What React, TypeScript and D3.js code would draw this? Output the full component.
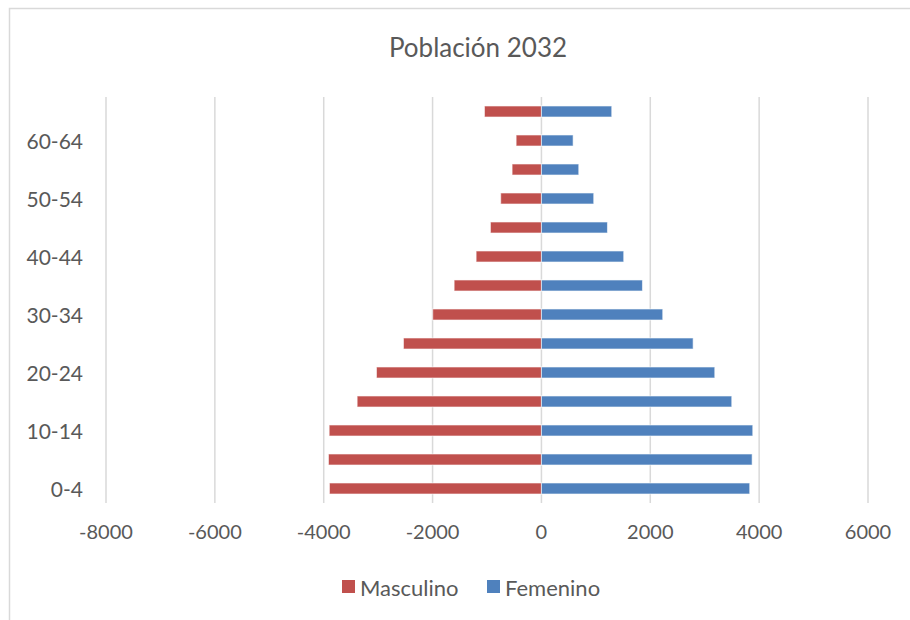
import React from "react";
import * as d3 from "d3";

const categories = ["0-4","5-9","10-14","15-19","20-24","25-29","30-34","35-39","40-44","45-49","50-54","55-59","60-64","65+"];
const masculino = [-3895,-3913,-3900,-3386,-3031,-2535,-1997,-1604,-1200,-937,-748,-539,-465,-1047];
const femenino = [3827,3871,3883,3497,3185,2787,2229,1856,1512,1213,961,686,582,1292];
const xTicks = [-8000,-6000,-4000,-2000,0,2000,4000,6000];
const seriesNames = ["Masculino","Femenino"];
const colors = ["#C0504D","#4F81BD"];
const title = "Población 2032";

export default function App() {
  const W = 910, H = 620;
  const x = d3.scaleLinear().domain([-8000, 6000]).range([106, 868]);
  const y = d3.scaleBand<string>().domain(categories).range([503, 97]).paddingInner(0.62).paddingOuter(0.31);
  const font = "Lato, 'Open Sans', sans-serif";
  const txt = "#595959";
  const series = [masculino, femenino];
  return (
    <svg width={W} height={H} style={{ position: "absolute", left: 0, top: 0, background: "#fff" }}>
      <rect x={9.5} y={8.5} width={W + 20} height={H + 20} fill="#fff" stroke="#D9D9D9" strokeWidth={1.5} />
      <text x={478} y={47} textAnchor="middle" dominantBaseline="central" fontFamily={font} fontSize={26} fill={txt}>{title}</text>
      {xTicks.map((t) => (
        <line key={"g" + t} x1={x(t)} x2={x(t)} y1={97} y2={503} stroke="#D9D9D9" strokeWidth={1.5} />
      ))}
      {series.map((vals, si) =>
        vals.map((v, i) => {
          const x0 = x(Math.min(0, v));
          const x1 = x(Math.max(0, v));
          return (
            <rect key={si + "-" + i} x={x0} y={y(categories[i])!} width={x1 - x0} height={y.bandwidth()}
              fill={colors[si]} stroke="#fff" strokeOpacity={0.6} strokeWidth={1} />
          );
        })
      )}
      {xTicks.map((t) => (
        <text key={"t" + t} x={x(t)} y={531} textAnchor="middle" dominantBaseline="central" fontFamily={font} fontSize={20} fill={txt}>{t}</text>
      ))}
      {categories.map((c, i) => i % 2 === 0 ? (
        <text key={"c" + c} x={83} y={y(c)! + y.bandwidth() / 2} textAnchor="end" dominantBaseline="central" fontFamily={font} fontSize={21} fill={txt}>{c}</text>
      ) : null)}
      <g>
        <rect x={342} y={580} width={13} height={13} fill={colors[0]} />
        <text x={360} y={587} dominantBaseline="central" fontFamily={font} fontSize={22} fill={txt}>{seriesNames[0]}</text>
        <rect x={487} y={580} width={13} height={13} fill={colors[1]} />
        <text x={505} y={587} dominantBaseline="central" fontFamily={font} fontSize={22} fill={txt}>{seriesNames[1]}</text>
      </g>
    </svg>
  );
}
